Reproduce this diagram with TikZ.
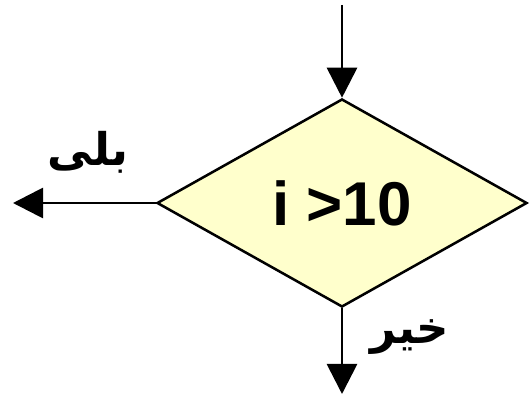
\documentclass[tikz,border=0pt]{standalone}
\usepackage{fontspec}
\setmainfont{Liberation Sans}
\newfontfamily\arabicfont[Script=Arabic]{DejaVu Sans}
\TeXXeTstate=1
\usetikzlibrary{shapes.geometric,arrows.meta}
\definecolor{decfill}{RGB}{255,255,204}
\tikzset{
	flow/.style={line width=2pt,-{Triangle[length=7.5mm,width=7.5mm]}},
	answer/.style={font=\arabicfont\bfseries\fontsize{32}{36}\selectfont,inner sep=0pt}
}

\begin{document}
\begin{tikzpicture}[x=0.025cm,y=-0.025cm]
				\useasboundingbox (0,0) rectangle (530,399);
				% the test box
				\node[diamond,draw,line width=1.8pt,fill=decfill,inner sep=0pt,
					minimum width=9.25cm,minimum height=5.2cm,
					font=\bfseries\fontsize{44}{50}\selectfont] (test) at (342,203) {i >10};
				% loose ends of the connectors
				\coordinate (entry) at (342,5);
				\coordinate (yesend) at (13,203);
				\coordinate (noend) at (342,394);
				% incoming, yes and no
				\draw[flow] (entry) -- (test.north);
				\draw[flow] (test.west) -- (yesend);
				\draw[flow] (test.south) -- (noend);
				\node[answer] (yes) at (88,152) {\beginR بلی\endR};
				\node[answer] (no) at (410,337) {\beginR خیر\endR};
			\end{tikzpicture}
\end{document}
